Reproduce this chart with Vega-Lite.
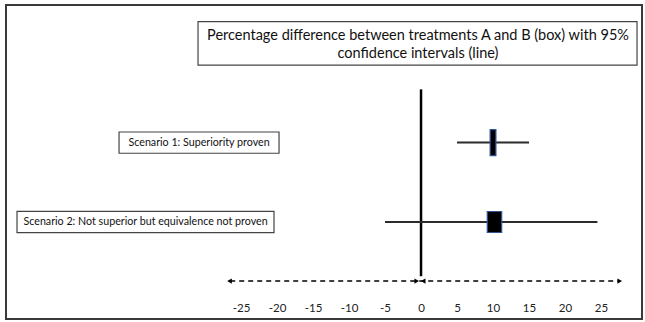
{
  "$schema": "https://vega.github.io/schema/vega-lite/v6.json",
  "autosize": "none",
  "width": 636,
  "height": 314,
  "padding": {"left": 6, "top": 5, "right": 3, "bottom": 3},
  "background": "white",
  "config": {
    "view": {"stroke": "#3a3a3a", "strokeWidth": 2},
    "text": {"font": "Lato"},
    "axis": {"labelFont": "Lato"}
  },
  "datasets": {
    "scen": [
      {"scenario": "Scenario 1: Superiority proven", "rank": 1, "est": 10, "lo": 5, "hi": 15, "box_lo": 9.6, "box_hi": 10.4},
      {"scenario": "Scenario 2: Not superior but equivalence not proven", "rank": 2, "est": 10.2, "lo": -5, "hi": 24.5, "box_lo": 9.2, "box_hi": 11.2}
    ],
    "one": [{}]
  },
  "layer": [
    {
      "data": {"name": "one"},
      "mark": {"type": "rule", "strokeDash": [5, 4], "strokeWidth": 1.5, "color": "black"},
      "encoding": {
        "x": {"datum": -26.5, "type": "quantitative",
          "scale": {"domain": [-57.64, 30.69], "nice": false, "zero": false},
          "axis": {"values": [-25, -20, -15, -10, -5, 0, 5, 10, 15, 20, 25], "orient": "bottom", "offset": -19, "domain": false, "ticks": false, "grid": false, "labelPadding": 2, "labelFontSize": 11.5, "labelColor": "#222", "title": null, "labelFlush": false, "labelExpr": "datum.value + ''"}},
        "x2": {"datum": 27.6},
        "y": {"datum": 2.744, "type": "quantitative", "scale": {"domain": [-0.6707, 3.159], "reverse": true, "nice": false, "zero": false}, "axis": null}
      }
    },
    {
      "data": {"values": [{"ax": -26.6, "sh": "triangle-left"}, {"ax": -0.6, "sh": "triangle-right"}, {"ax": 0.3, "sh": "triangle-left"}, {"ax": 27.6, "sh": "triangle-right"}]},
      "mark": {"type": "point", "filled": true, "color": "black", "size": 28, "opacity": 1},
      "encoding": {
        "x": {"field": "ax", "type": "quantitative"},
        "y": {"datum": 2.744, "type": "quantitative"},
        "shape": {"field": "sh", "type": "nominal", "scale": null, "legend": null}
      }
    },
    {
      "data": {"name": "one"},
      "mark": {"type": "rule", "strokeWidth": 2.5, "color": "black"},
      "encoding": {
        "x": {"datum": 0, "type": "quantitative"},
        "y": {"datum": 0.329, "type": "quantitative"},
        "y2": {"datum": 2.683}
      }
    },
    {
      "data": {"name": "scen"},
      "mark": {"type": "rule", "strokeWidth": 2, "color": "#2b2b2b"},
      "encoding": {
        "x": {"field": "lo", "type": "quantitative"},
        "x2": {"field": "hi"},
        "y": {"field": "rank", "type": "quantitative"}
      }
    },
    {
      "data": {"name": "scen"},
      "transform": [{"filter": "datum.rank == 1"}],
      "mark": {"type": "bar", "orient": "horizontal", "size": 26, "color": "black", "stroke": "#2f5597", "strokeWidth": 1.2},
      "encoding": {
        "x": {"field": "box_lo", "type": "quantitative"},
        "x2": {"field": "box_hi"},
        "y": {"field": "rank", "type": "quantitative"}
      }
    },
    {
      "data": {"name": "scen"},
      "transform": [{"filter": "datum.rank == 2"}],
      "mark": {"type": "bar", "orient": "horizontal", "size": 21, "color": "black", "stroke": "#2f5597", "strokeWidth": 1.2},
      "encoding": {
        "x": {"field": "box_lo", "type": "quantitative"},
        "x2": {"field": "box_hi"},
        "y": {"field": "rank", "type": "quantitative"}
      }
    },
    {
      "data": {"values": [{"rank": 1, "l": -41.94, "r": -19.72}, {"rank": 2, "l": -56.11, "r": -20.42}]},
      "transform": [{"calculate": "datum.rank - 0.134", "as": "t"}, {"calculate": "datum.rank + 0.134", "as": "b"}],
      "mark": {"type": "rect", "fill": "white", "stroke": "#444", "strokeWidth": 1.2},
      "encoding": {
        "x": {"field": "l", "type": "quantitative"},
        "x2": {"field": "r"},
        "y": {"field": "t", "type": "quantitative"},
        "y2": {"field": "b"}
      }
    },
    {
      "data": {"name": "scen"},
      "transform": [{"calculate": "datum.rank == 1 ? -30.83 : -38.26", "as": "cx"}],
      "mark": {"type": "text", "fontSize": 10.7, "color": "#111", "align": "center", "baseline": "middle"},
      "encoding": {
        "x": {"field": "cx", "type": "quantitative"},
        "y": {"field": "rank", "type": "quantitative"},
        "text": {"field": "scenario"}
      }
    },
    {
      "data": {"name": "one"},
      "mark": {"type": "rect", "fill": "white", "stroke": "#444", "strokeWidth": 1.2},
      "encoding": {
        "x": {"datum": -30.97, "type": "quantitative"},
        "x2": {"datum": 30.0},
        "y": {"datum": -0.524, "type": "quantitative"},
        "y2": {"datum": 0.024}
      }
    },
    {
      "data": {"name": "one"},
      "mark": {"type": "text", "fontSize": 14.5, "color": "#111", "align": "center", "baseline": "middle", "lineHeight": 18},
      "encoding": {
        "x": {"datum": -0.42, "type": "quantitative"},
        "y": {"datum": -0.341, "type": "quantitative"},
        "text": {"value": ["Percentage difference  between treatments A and B (box) with 95%", "confidence intervals (line)"]}
      }
    }
  ]
}
